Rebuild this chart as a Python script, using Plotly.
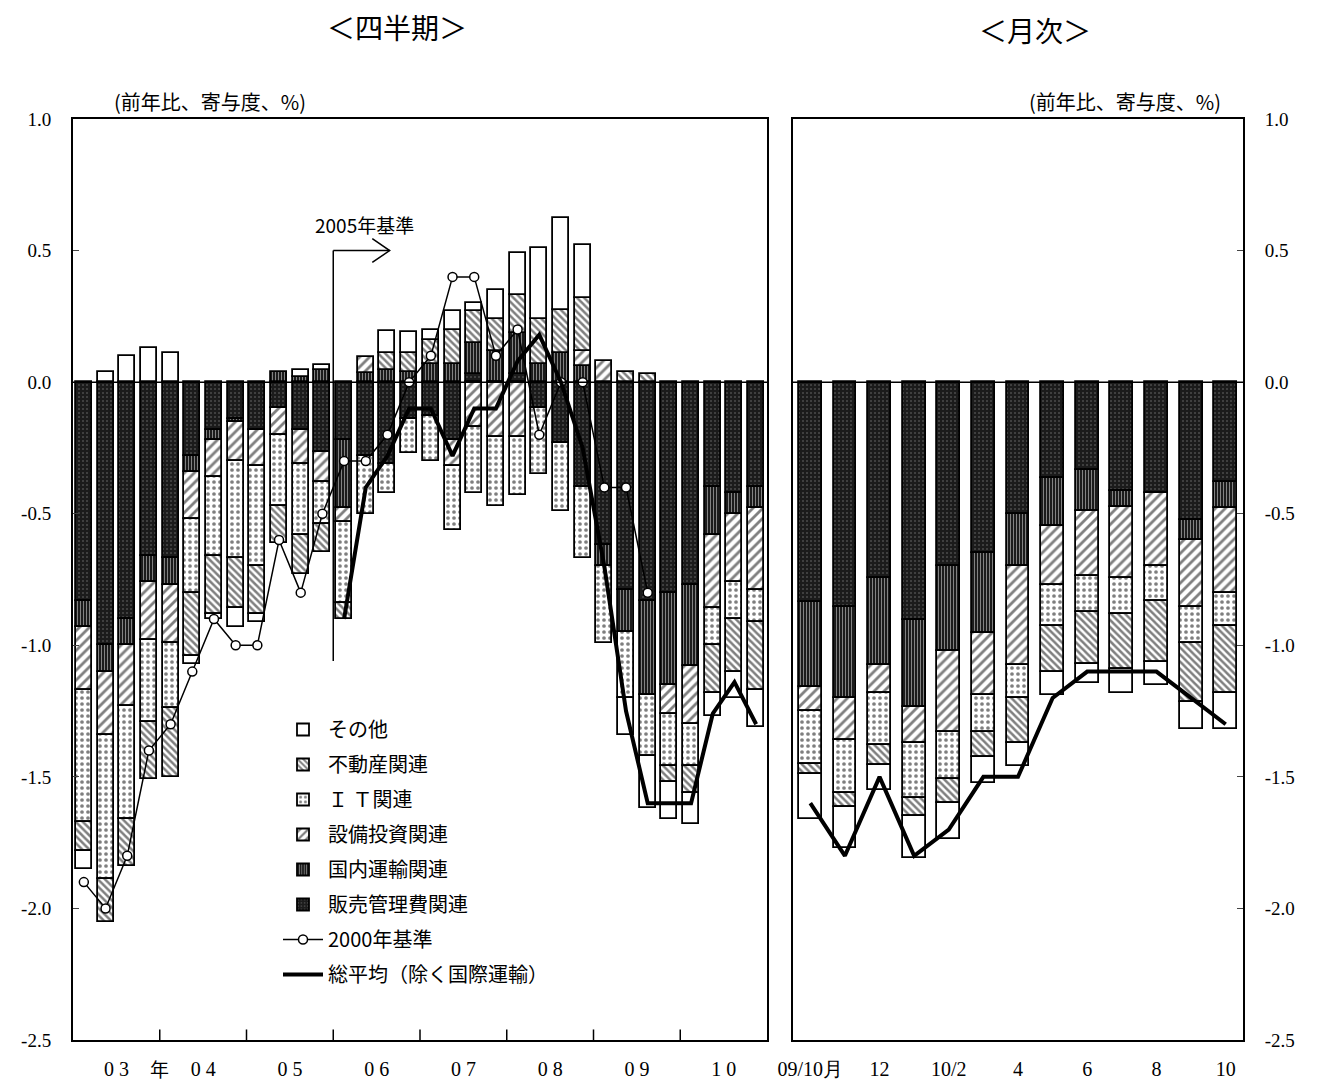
import plotly.graph_objects as go

# ---------------- data ----------------
quarters = ["03Q1","03Q2","03Q3","03Q4","04Q1","04Q2","04Q3","04Q4",
            "05Q1","05Q2","05Q3","05Q4","06Q1","06Q2","06Q3","06Q4",
            "07Q1","07Q2","07Q3","07Q4","08Q1","08Q2","08Q3","08Q4",
            "09Q1","09Q2","09Q3","09Q4","10Q1","10Q2","10Q3","10Q4"]
year_labels = ["0 3","0 4","0 5","0 6","0 7","0 8","0 9","1 0"]

hanbai_q = [-0.83,-1.00,-0.90,-0.66,-0.67,-0.28,-0.18,-0.14,-0.18,-0.10,-0.18,-0.265,-0.22,-0.28,-0.31,-0.14,
            -0.13,-0.22,0.03,0.0,0.03,-0.10,-0.23,-0.40,-0.62,-0.79,-0.83,-0.80,-0.77,-0.40,-0.42,-0.40]
unyu_q = [-0.10,-0.10,-0.10,-0.10,-0.10,-0.06,-0.04,-0.01,0.0,0.04,0.02,0.045,-0.26,0.035,0.045,0.04,
          0.07,0.07,0.12,0.12,0.155,0.07,0.11,0.06,-0.08,-0.16,-0.36,-0.35,-0.31,-0.18,-0.08,-0.08]
setsubi_q = [-0.24,-0.24,-0.23,-0.22,-0.22,-0.18,-0.14,-0.15,-0.14,-0.10,-0.13,-0.115,-0.05,0.06,0.0,0.0,
             0.0,-0.10,-0.17,-0.21,-0.21,0.0,0.0,0.06,0.08,0.0,0.0,-0.11,-0.22,-0.28,-0.26,-0.31]
it_q = [-0.50,-0.55,-0.43,-0.31,-0.25,-0.28,-0.30,-0.37,-0.38,-0.27,-0.27,-0.16,-0.31,-0.22,-0.11,-0.13,
        -0.17,-0.24,-0.25,-0.26,-0.22,-0.25,-0.26,-0.27,-0.29,-0.25,-0.23,-0.20,-0.16,-0.14,-0.14,-0.12]
fudosan_q = [-0.11,-0.16,-0.18,-0.22,-0.26,-0.24,-0.22,-0.19,-0.18,-0.14,-0.15,-0.105,-0.06,0.0,0.065,0.07,
             0.09,0.13,0.12,0.12,0.145,0.17,0.165,0.20,0.0,0.04,0.03,-0.06,-0.10,-0.18,-0.20,-0.26]
sonota_q = [-0.07,0.04,0.10,0.13,0.11,-0.03,-0.02,-0.07,-0.03,0.0,0.025,0.02,0.0,0.0,0.085,0.08,
            0.04,0.07,0.03,0.11,0.16,0.27,0.35,0.20,0.0,-0.14,-0.20,-0.14,-0.12,-0.09,-0.10,-0.14]
base2000_q = [-1.9,-2.0,-1.8,-1.4,-1.3,-1.1,-0.9,-1.0,-1.0,-0.6,-0.8,-0.5,-0.3,-0.3,-0.2,0.0,
              0.1,0.4,0.4,0.1,0.2,-0.2,0.0,0.0,-0.4,-0.4,-0.8,None,None,None,None,None]
avg_q = [None]*12 + [-0.9,-0.4,-0.28,-0.1,-0.1,-0.28,-0.1,-0.1,0.08,0.18,0.0,-0.25,
                     -0.7,-1.25,-1.6,-1.6,-1.6,-1.26,-1.14,-1.3]

months = ["09/10","09/11","09/12","10/1","10/2","10/3","10/4","10/5","10/6","10/7","10/8","10/9","10/10"]
month_ticktext = ["09/10月","12","10/2","4","6","8","10"]
hanbai_m = [-0.835,-0.855,-0.745,-0.905,-0.70,-0.65,-0.50,-0.365,-0.335,-0.415,-0.42,-0.525,-0.38]
unyu_m = [-0.325,-0.345,-0.33,-0.33,-0.32,-0.305,-0.20,-0.18,-0.155,-0.06,0.0,-0.075,-0.10]
setsubi_m = [-0.09,-0.16,-0.105,-0.135,-0.31,-0.235,-0.375,-0.225,-0.245,-0.27,-0.28,-0.255,-0.32]
it_m = [-0.20,-0.20,-0.20,-0.21,-0.18,-0.14,-0.125,-0.155,-0.14,-0.135,-0.13,-0.135,-0.125]
fudosan_m = [-0.04,-0.055,-0.075,-0.07,-0.09,-0.095,-0.17,-0.175,-0.195,-0.21,-0.235,-0.225,-0.255]
sonota_m = [-0.17,-0.155,-0.095,-0.16,-0.135,-0.10,-0.09,-0.09,-0.075,-0.09,-0.085,-0.105,-0.14]
avg_m = [-1.6,-1.8,-1.5,-1.8,-1.7,-1.5,-1.5,-1.2,-1.1,-1.1,-1.1,-1.2,-1.3]

y_ticks = [1.0,0.5,0.0,-0.5,-1.0,-1.5,-2.0,-2.5]

# ---------------- styles ----------------
JP = "Noto Sans CJK JP"
NUM = "Liberation Serif"
series = [
    ("販売管理費関連", hanbai_q, hanbai_m, dict(shape=".", bgcolor="#1b1b1b", fgcolor="#7a7a7a", size=4, solidity=0.2), 6),
    ("国内運輸関連", unyu_q, unyu_m, dict(shape="|", bgcolor="#1b1b1b", fgcolor="#ffffff", size=3, solidity=0.3), 5),
    ("設備投資関連", setsubi_q, setsubi_m, dict(shape="/", bgcolor="#ffffff", fgcolor="#000000", size=7, solidity=0.4), 4),
    ("Ｉ Ｔ関連", it_q, it_m, dict(shape=".", bgcolor="#ffffff", fgcolor="#000000", size=6, solidity=0.3), 3),
    ("不動産関連", fudosan_q, fudosan_m, dict(shape="\\", bgcolor="#ffffff", fgcolor="#000000", size=5, solidity=0.5), 2),
    ("その他", sonota_q, sonota_m, dict(shape="", bgcolor="#ffffff", fgcolor="#000000"), 1),
]

def nz(v):
    return [None if (x is None or x == 0) else x for x in v]

fig = go.Figure()
xq = list(range(len(quarters)))
xm = list(range(len(months)))

for name, vq, vm, pat, rank in series:
    fig.add_trace(go.Bar(
        x=xq, y=nz(vq), name=name, width=0.74, legendrank=rank, legendgroup=name,
        marker=dict(color="white", pattern=pat, line=dict(color="black", width=1.8)),
        xaxis="x", yaxis="y", showlegend=True))
    fig.add_trace(go.Bar(
        x=xm, y=nz(vm), name=name, width=0.66, showlegend=False, legendgroup=name,
        marker=dict(color="white", pattern=pat, line=dict(color="black", width=1.8)),
        xaxis="x2", yaxis="y2"))

fig.add_trace(go.Scatter(
    x=xq, y=base2000_q, name="2000年基準", mode="lines+markers", legendrank=7,
    legendgroup="b2000",
    line=dict(color="black", width=1.5),
    marker=dict(symbol="circle", size=9, color="white", line=dict(color="black", width=1.5)),
    xaxis="x", yaxis="y"))
fig.add_trace(go.Scatter(
    x=xq, y=avg_q, name="総平均（除く国際運輸）", mode="lines", legendrank=8,
    legendgroup="avg",
    line=dict(color="black", width=4), xaxis="x", yaxis="y"))
fig.add_trace(go.Scatter(
    x=xm, y=avg_m, name="総平均（除く国際運輸）", mode="lines", showlegend=False,
    legendgroup="avg",
    line=dict(color="black", width=4), xaxis="x2", yaxis="y2"))

W, H = 1322, 1084
ydom = [1 - 1040 / H, 1 - 119 / H]
axis_common = dict(showline=True, linecolor="black", linewidth=2, mirror=True,
                   showgrid=False, zeroline=False, automargin=False)

fig.update_layout(
    width=W, height=H, margin=dict(l=0, r=0, t=0, b=0, autoexpand=False),
    paper_bgcolor="white", plot_bgcolor="white",
    barmode="relative", bargap=0,
    font=dict(family=JP, color="black"),
    xaxis=dict(domain=[73 / W, 767 / W], range=[-0.5, 31.5],
               tickvals=[1.5 + 4 * k for k in range(8)], ticktext=year_labels,
               ticks="", tickfont=dict(family=NUM, size=20), ticklabelstandoff=10,
               **axis_common),
    yaxis=dict(domain=ydom, range=[-2.5, 1.0], tickvals=y_ticks,
               ticktext=[f"{v:.1f}" for v in y_ticks],
               ticks="inside", ticklen=6, tickfont=dict(family=NUM, size=19),
               ticklabelstandoff=16, **axis_common),
    xaxis2=dict(domain=[793 / W, 1243 / W], range=[-0.5, 12.5], anchor="y2",
                tickvals=[0, 2, 4, 6, 8, 10, 12], ticktext=month_ticktext,
                ticks="", tickfont=dict(family=NUM, size=20), ticklabelstandoff=10,
                **axis_common),
    yaxis2=dict(domain=ydom, range=[-2.5, 1.0], anchor="x2", side="right",
                tickvals=y_ticks, ticktext=[f"{v:.1f}" for v in y_ticks],
                ticks="inside", ticklen=6, tickfont=dict(family=NUM, size=19),
                ticklabelstandoff=16, **axis_common),
    legend=dict(x=278 / W, y=1 - 710 / H, xanchor="left", yanchor="top",
                bgcolor="rgba(0,0,0,0)", font=dict(family=JP, size=20),
                itemwidth=40, tracegroupgap=6),
)

# zero lines, year boundary ticks, 2005 base marker
shapes = [
    dict(type="line", xref="x", yref="y", x0=-0.5, x1=31.5, y0=0, y1=0,
         line=dict(color="black", width=1.5), layer="above"),
    dict(type="line", xref="x2", yref="y2", x0=-0.5, x1=12.5, y0=0, y1=0,
         line=dict(color="black", width=1.5), layer="above"),
    dict(type="line", xref="x", yref="y", x0=11.5, x1=11.5, y0=-1.06, y1=0.5,
         line=dict(color="black", width=1.5), layer="above"),
    dict(type="line", xref="x", yref="y", x0=11.5, x1=14.1, y0=0.5, y1=0.5,
         line=dict(color="black", width=1.5), layer="above"),
    dict(type="path", xref="x", yref="y", path="M 13.3,0.545 L 14.1,0.5 L 13.3,0.455",
         line=dict(color="black", width=1.5), layer="above"),
]
for k in range(1, 8):
    shapes.append(dict(type="line", xref="x", yref="y", x0=4 * k - 0.5, x1=4 * k - 0.5,
                       y0=-2.5, y1=-2.46, line=dict(color="black", width=1.5)))
fig.update_layout(shapes=shapes)

def pa(text, x, y, size):
    return dict(text=text, x=x / W, y=1 - y / H, xref="paper", yref="paper",
                xanchor="center", yanchor="middle", showarrow=False,
                font=dict(size=size, family=JP))

annotations = [
    pa("＜四半期＞", 397, 27, 28),
    pa("＜月次＞", 1035, 30, 28),
    pa("(前年比、寄与度、%)", 210, 101, 20),
    pa("(前年比、寄与度、%)", 1125, 101, 20),
    dict(text="2005年基準", x=12.95, y=0.6, xref="x", yref="y",
         xanchor="center", yanchor="middle",
         showarrow=False, font=dict(size=19, family=JP)),
    dict(text="年", x=3.5, y=1 - 1068 / H, xref="x", yref="paper",
         xanchor="center", yanchor="middle",
         showarrow=False, font=dict(size=19, family=JP)),
]
fig.update_layout(annotations=annotations)

fig.write_html("out.html", config={"displayModeBar": False},
               post_script="document.body.style.margin='0px';")
